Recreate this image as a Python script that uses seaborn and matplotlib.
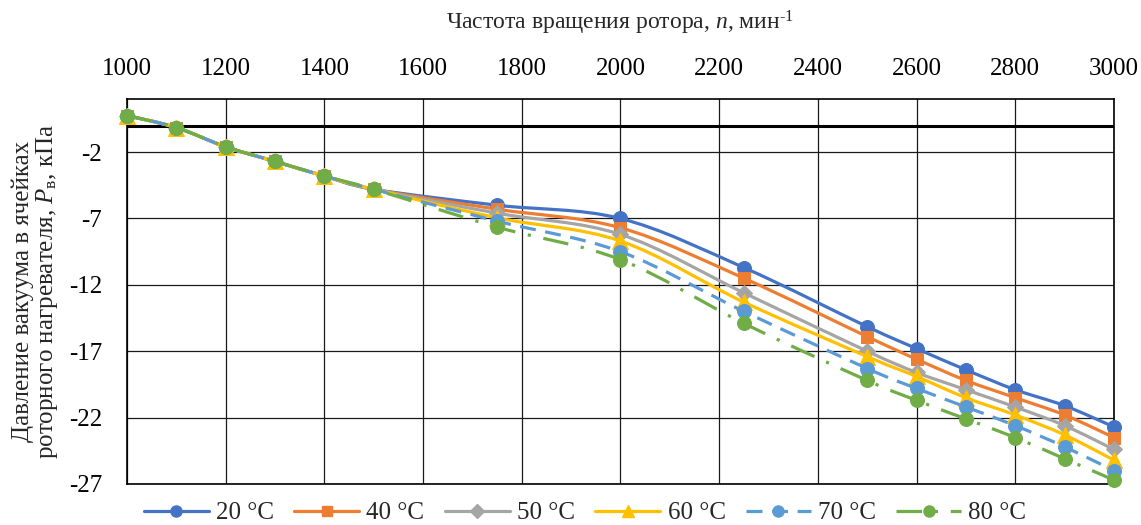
"""Давление вакуума в ячейках роторного нагревателя vs частота вращения."""
import matplotlib
matplotlib.use("Agg")
import matplotlib.pyplot as plt
from matplotlib.path import Path
from matplotlib.patches import PathPatch
from matplotlib.lines import Line2D
import numpy as np
import seaborn as sns

sns.set_theme(style="white")
plt.rcParams["font.family"] = ["Liberation Serif", "DejaVu Serif"]
plt.rcParams["mathtext.fontset"] = "custom"
plt.rcParams["mathtext.rm"] = "Liberation Serif"
plt.rcParams["mathtext.it"] = "Liberation Serif:italic"
plt.rcParams["axes.unicode_minus"] = False

rpm = [1000, 1100, 1200, 1300, 1400, 1500, 1750, 2000, 2250, 2500, 2600, 2700, 2800, 2900, 3000]
labels = ["20 °C", "40 °C", "50 °C", "60 °C", "70 °C", "80 °C"]
p20 = [0.75, -0.15, -1.6, -2.7, -3.8, -4.8, -6.0, -7.0, -10.7, -15.15, -16.8, -18.4, -19.9, -21.1, -22.7]
p40 = [0.75, -0.15, -1.6, -2.7, -3.8, -4.8, -6.3, -7.7, -11.5, -15.9, -17.6, -19.2, -20.5, -21.8, -23.5]
p50 = [0.75, -0.15, -1.6, -2.7, -3.8, -4.8, -6.6, -8.2, -12.6, -17.0, -18.6, -19.9, -21.2, -22.6, -24.4]
p60 = [0.75, -0.15, -1.6, -2.7, -3.8, -4.8, -6.95, -8.7, -13.3, -17.4, -18.9, -20.5, -21.8, -23.3, -25.2]
p70 = [0.75, -0.15, -1.6, -2.7, -3.8, -4.8, -7.2, -9.5, -14.0, -18.3, -19.8, -21.2, -22.6, -24.2, -26.0]
p80 = [0.75, -0.15, -1.6, -2.7, -3.8, -4.8, -7.65, -10.1, -14.9, -19.2, -20.7, -22.1, -23.5, -25.1, -26.7]
series = [p20, p40, p50, p60, p70, p80]

colors = ["#4472C4", "#ED7D31", "#A5A5A5", "#FFC000", "#5B9BD5", "#70AD47"]
markers = ["o", "s", "D", "^", "o", "o"]
msizes = [10, 9, 8.5, 11, 10, 10]
styles = ["-", "-", "-", "-", (0, (5, 3)), (0, (8, 4, 1, 4))]


def smooth_path(x, y):
    # сглаженная линия как в Excel (кубические кривые Безье по точкам)
    p = np.column_stack([x, y]).astype(float)
    ext = np.vstack([p[0], p, p[-1]])
    verts, codes = [p[0]], [Path.MOVETO]
    for i in range(len(p) - 1):
        a, b, c, d = ext[i], ext[i + 1], ext[i + 2], ext[i + 3]
        verts += [b + (c - a) / 6, c - (d - b) / 6, c]
        codes += [Path.CURVE4] * 3
    return Path(verts, codes)


fig = plt.figure(figsize=(11.41, 5.25), dpi=100)
ax = fig.add_axes([0.1113, 0.0781, 0.8650, 0.7333])

for i, (vals, col) in enumerate(zip(series, colors)):
    ax.add_patch(PathPatch(smooth_path(rpm, vals), fill=False, edgecolor=col,
                           lw=2.3, linestyle=styles[i], zorder=3 + 2 * i,
                           capstyle="butt", clip_on=False))
    sns.lineplot(x=rpm, y=vals, ax=ax, color=col, lw=0, marker=markers[i],
                 markersize=msizes[i], markeredgecolor=col, zorder=4 + 2 * i,
                 clip_on=False)

ax.set_xlim(1000, 3000)
ax.set_ylim(-27, 2)
ax.set_xticks(range(1000, 3001, 200))
ax.set_yticks([-27, -22, -17, -12, -7, -2])
ax.xaxis.tick_top()
ax.xaxis.set_label_position("top")
ax.tick_params(axis="both", length=0, labelsize=18, colors="black")
ax.tick_params(axis="x", pad=14)
ax.tick_params(axis="y", pad=18)
ax.grid(True, color="#1a1a1a", lw=0.9)
ax.axhline(0, color="black", lw=2.2, zorder=2)
for s in ax.spines.values():
    s.set_color("black")
    s.set_linewidth(1.2)

ax.set_xlabel("Частота вращения ротора, $n$, мин$^{\\text{-1}}$", fontsize=17, labelpad=20)
ax.set_ylabel("Давление вакуума в ячейках\nроторного нагревателя, $P_{\\mathrm{в}}$, кПа",
              fontsize=18, linespacing=1.0)
ax.yaxis.set_label_coords(-0.068, 0.5)

handles = [Line2D([], [], color=c, lw=2.3, linestyle=st, marker=m, markersize=ms * 0.8,
                  markeredgecolor=c)
           for c, st, m, ms in zip(colors, styles, markers, msizes)]
fig.legend(handles, labels, loc="center", bbox_to_anchor=(585 / 1141, 1 - 513 / 525),
           ncol=6, frameon=False, fontsize=18, handlelength=2.6, handletextpad=0.3,
           columnspacing=0.8)

fig.savefig("out.png", dpi=100)
